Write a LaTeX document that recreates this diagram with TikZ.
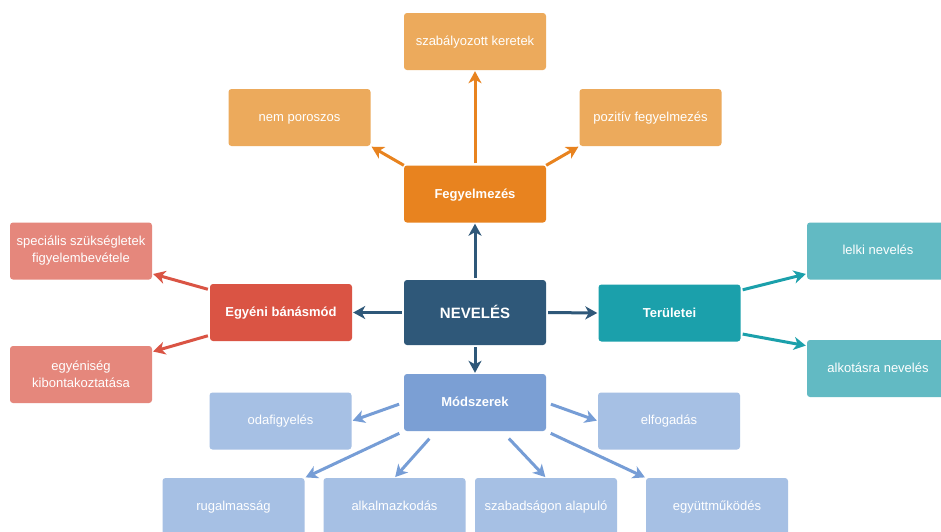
\documentclass[tikz,border=0pt]{standalone}
\usepackage{fontspec}
\setmainfont{Liberation Sans}
\usetikzlibrary{arrows.meta,calc}
\definecolor{cNev}{HTML}{2F5879}
\definecolor{cOr}{HTML}{E8831F}
\definecolor{cOrL}{HTML}{ECAA5C}
\definecolor{cRed}{HTML}{DA5444}
\definecolor{cRedL}{HTML}{E5877C}
\definecolor{cTeal}{HTML}{1BA0AB}
\definecolor{cTealL}{HTML}{62BAC3}
\definecolor{cBlue}{HTML}{7B9FD4}
\definecolor{cBlueL}{HTML}{A6C0E4}
\definecolor{cBlueA}{HTML}{769DD6}
\begin{document}
\begin{tikzpicture}[x=1pt,y=-1pt,
  box/.style={rectangle, rounded corners=3pt, minimum width=142pt, minimum height=57pt,
    text=white, align=center, inner sep=2pt, font=\fontsize{13}{17}\selectfont},
  one/.style={text height=9.5pt, text depth=2.5pt},
  mainbox/.style={box, text height=9.5pt, text depth=1pt, font=\fontsize{13}{17}\selectfont\bfseries},
  arr/.style={-{Stealth[length=12pt,width=13pt,inset=3.5pt]}, line width=3pt, shorten >=1pt},
]
\useasboundingbox (0,0) rectangle (941,531);
\fill[white] (0,0) rectangle (941,531);

% central
\node[box, fill=cNev, minimum height=65pt, text height=11pt, text depth=0pt, font=\fontsize{15}{18}\selectfont\bfseries] (nev) at (475,312.5) {NEVELÉS};

% Fegyelmezés group
\node[mainbox, fill=cOr] (feg) at (475,194) {Fegyelmezés};
\node[box, one, fill=cOrL] (sza) at (475,41.5) {szabályozott keretek};
\node[box, one, fill=cOrL] (nem) at (299.5,117.5) {nem poroszos};
\node[box, one, fill=cOrL] (poz) at (650.5,117.5) {pozitív fegyelmezés};

% Egyéni bánásmód group
\node[mainbox, fill=cRed] (egy) at (281,312.5) {Egyéni bánásmód};
\node[box, fill=cRedL] (spec) at (81,251) {speciális szükségletek\\figyelembevétele};
\node[box, fill=cRedL] (egk) at (81,374.5) {egyéniség\\kibontakoztatása};

% Területei group
\node[mainbox, fill=cTeal] (ter) at (669.5,313) {Területei};
\node[box, one, fill=cTealL] (lel) at (878,251) {lelki nevelés};
\node[box, one, fill=cTealL] (alk) at (878,368.5) {alkotásra nevelés};

% Módszerek group
\node[mainbox, fill=cBlue] (mod) at (475,402.5) {Módszerek};
\node[box, one, fill=cBlueL] (oda) at (280.5,421) {odafigyelés};
\node[box, one, fill=cBlueL] (elf) at (669,421) {elfogadás};
\node[box, one, fill=cBlueL] (rug) at (233.5,506.5) {rugalmasság};
\node[box, one, fill=cBlueL] (alkm) at (394.5,506.5) {alkalmazkodás};
\node[box, one, fill=cBlueL] (szab) at (546,506.5) {szabadságon alapuló};
\node[box, one, fill=cBlueL] (egyu) at (717,506.5) {együttműködés};

% central arrows
\draw[arr, cNev, shorten <=2pt] (nev.north) -- (feg.south);
\draw[arr, cNev, shorten <=2pt] (nev.west) -- (egy.east);
\draw[arr, cNev, shorten <=2pt] (nev.east) -- (ter.west);
\draw[arr, cNev, shorten <=2pt] (nev.south) -- (mod.north);

% Fegyelmezés arrows
\draw[arr, cOr, shorten <=2pt] (feg.north) -- (sza.south);
\draw[arr, cOr] (feg.north west) -- (nem.south east);
\draw[arr, cOr] (feg.north east) -- (poz.south west);

% Egyéni arrows
\draw[arr, cRed, shorten <=2pt] ([yshift=-6pt]egy.north west) -- ([yshift=6pt]spec.south east);
\draw[arr, cRed, shorten <=2pt] ([yshift=6pt]egy.south west) -- ([yshift=-6pt]egk.north east);

% Területei arrows
\draw[arr, cTeal, shorten <=2pt] ([yshift=-6pt]ter.north east) -- ([yshift=6pt]lel.south west);
\draw[arr, cTeal, shorten <=2pt] ([yshift=8pt]ter.south east) -- ([yshift=-6pt]alk.north west);

% Módszerek arrows
\draw[arr, cBlueA, shorten <=5pt] (mod.west) -- (oda.east);
\draw[arr, cBlueA, shorten <=5pt] (mod.east) -- (elf.west);
\draw[arr, cBlueA, shorten <=5pt] (mod.south west) -- (rug.north east);
\draw[arr, cBlueA, shorten <=10pt] ([xshift=-39pt]mod.south) -- (alkm.north);
\draw[arr, cBlueA, shorten <=10pt] ([xshift=27pt]mod.south) -- (szab.north);
\draw[arr, cBlueA, shorten <=5pt] (mod.south east) -- (egyu.north west);
\end{tikzpicture}
\end{document}
